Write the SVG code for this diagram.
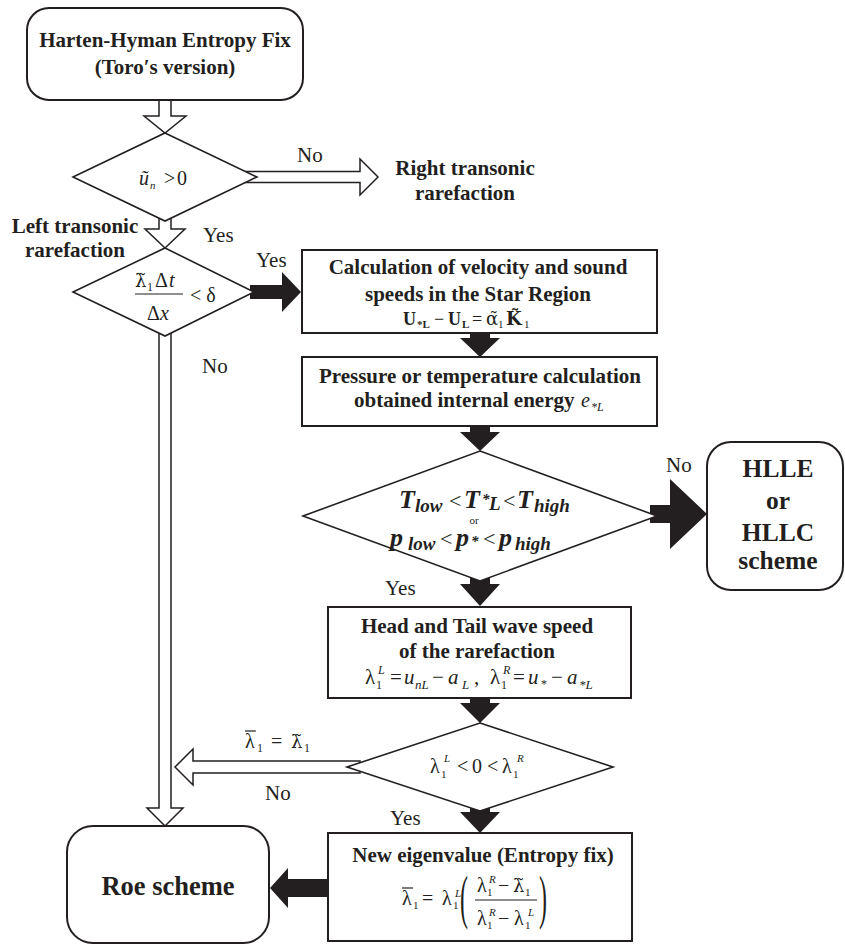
<svg xmlns="http://www.w3.org/2000/svg" width="845" height="946" viewBox="0 0 845 946">
<style>
.box{fill:#fff;stroke:#231f20;stroke-width:2}
.dia{fill:#fff;stroke:#231f20;stroke-width:1.6;stroke-linejoin:miter}
.ha{fill:#fff;stroke:#231f20;stroke-width:1.5;stroke-linejoin:miter}
.ba{fill:#231f20;stroke:none}
.bar{stroke:#231f20;stroke-width:1.2}
text{font-family:"Liberation Serif","Times New Roman",serif;fill:#231f20}
.b{font-weight:bold;font-size:21px;text-anchor:middle}
.lbl{font-size:21px}
.m{font-size:20px}
.i{font-style:italic}
.s{font-size:12px}
.dj{font-family:"DejaVu Serif",serif;font-size:18px}
.big{font-weight:bold;font-size:25.5px;text-anchor:middle}
.bi{font-weight:bold;font-style:italic;font-size:26px}
.op{font-weight:normal;font-style:normal;font-size:22px}
.sub{font-size:19px}
</style>
<rect width="845" height="946" fill="#fff"/>
<g id="connectors">
  <polygon class="ha" points="159,95 171,95 171,116 186,116 165,133 144,116 159,116"/>
  <polygon class="ha" points="159,210 171,210 171,229 185,229 165,248 145,229 159,229"/>
  <polygon class="ha" points="245,171.5 360,171.5 360,159 378,177 360,195 360,182.5 245,182.5"/>
  <polygon class="ha" points="159,325 171,325 171,808 183,808 165,826 147,808 159,808"/>
  <polygon class="ha" points="360,761 193,761 193,749 175,767 193,785 193,773 360,773"/>
  <polygon class="ba" points="250,285 282,285 282,272 301,292 282,312 282,299 250,299"/>
  <polygon class="ba" points="470,333 490,333 490,338 500,338 480,357 460,338 470,338"/>
  <polygon class="ba" points="470,426 490,426 490,432 500,432 480,451 460,432 470,432"/>
  <polygon class="ba" points="470,575 490,575 490,584 500,584 480,606 460,584 470,584"/>
  <polygon class="ba" points="650,505 670,505 670,479 707,514 670,549 670,523 650,523"/>
  <polygon class="ba" points="470,698 490,698 490,703 500,703 480,723 460,703 470,703"/>
  <polygon class="ba" points="470,806 490,806 490,812 500,812 480,833 460,812 470,812"/>
  <polygon class="ba" points="328,879 288,879 288,868 270,888 288,908 288,897 328,897"/>
</g>
<g id="labels">
  <text class="lbl" x="297" y="162">No</text>
  <text class="b" x="465" y="175">Right transonic</text>
  <text class="b" x="465" y="200">rarefaction</text>
  <text class="b" x="75" y="233">Left transonic</text>
  <text class="b" x="75" y="257">rarefaction</text>
  <text class="lbl" x="203" y="242">Yes</text>
  <text class="lbl" x="256" y="267">Yes</text>
  <text class="lbl" x="202" y="373">No</text>
  <text class="lbl" x="666" y="472">No</text>
  <text class="lbl" x="385" y="595">Yes</text>
  <text class="lbl" x="265" y="800">No</text>
  <text class="lbl" x="390" y="825">Yes</text>
  <text class="m"><tspan x="245" y="748">λ</tspan><tspan class="s" x="257" y="752">1</tspan><tspan x="271" y="748">=</tspan><tspan class="dj" x="291" y="748">λ̃</tspan><tspan class="s" x="304" y="752">1</tspan></text>
  <line class="bar" x1="245" y1="731" x2="256" y2="731"/>
</g>
<g id="start">
  <rect class="box" x="27" y="8" width="276" height="92" rx="22"/>
  <text class="b" x="165" y="47">Harten-Hyman Entropy Fix</text>
  <text class="b" x="165" y="74">(Toro′s version)</text>
</g>
<g id="dec1">
  <polygon class="dia" points="165,133 257,177 165,221 73,177"/>
  <text class="m"><tspan class="i" x="139" y="185">ũ</tspan><tspan class="i" font-size="11" x="150" y="189">n</tspan><tspan x="164" y="185">&gt;</tspan><tspan x="177" y="185">0</tspan></text>
</g>
<g id="dec2">
  <polygon class="dia" points="165,248 254,292 165,336 73,292"/>
  <text class="m"><tspan class="dj" x="135" y="287">λ̃</tspan><tspan class="s" x="147" y="291">1</tspan><tspan x="155" y="287">Δ</tspan><tspan class="i" x="169" y="287">t</tspan></text>
  <line class="bar" x1="135" y1="294" x2="183" y2="294"/>
  <text class="m"><tspan x="147" y="320">Δ</tspan><tspan class="i" x="160" y="320">x</tspan></text>
  <text class="m" x="190" y="302">&lt; δ</text>
</g>
<g id="box1">
  <rect class="box" x="302" y="250" width="355" height="83"/>
  <text class="b" x="478" y="274">Calculation of velocity and sound</text>
  <text class="b" x="478" y="301">speeds in the Star Region</text>
  <text font-size="18"><tspan font-weight="bold" x="403" y="325">U</tspan><tspan font-weight="bold" font-size="11" x="417" y="328">*L</tspan><tspan x="434" y="325">−</tspan><tspan font-weight="bold" x="448" y="325">U</tspan><tspan font-weight="bold" font-size="11" x="462" y="328">L</tspan><tspan x="472" y="325">=</tspan><tspan class="dj" font-size="16" x="486" y="325">α̃</tspan><tspan font-size="11" x="498" y="328">1</tspan><tspan class="dj" font-size="17" font-weight="bold" x="506" y="325">K̃</tspan><tspan font-size="11" x="524" y="328">1</tspan></text>
</g>
<g id="box2">
  <rect class="box" x="302" y="357" width="355" height="69"/>
  <text class="b" x="480" y="383">Pressure or temperature calculation</text>
  <text font-weight="bold" font-size="21" x="354" y="407">obtained internal energy</text>
  <text class="m i"><tspan x="581" y="407">e</tspan><tspan font-size="12" x="591" y="411">*L</tspan></text>
</g>
<g id="dec3">
  <polygon class="dia" points="480,451 657,516 480,581 303,516"/>
  <text class="bi"><tspan x="399" y="508">T</tspan><tspan class="sub" x="415" y="512">low</tspan><tspan class="op" x="449" y="508">&lt;</tspan><tspan x="464" y="508">T</tspan><tspan font-size="15" x="482" y="504">*</tspan><tspan class="sub" x="489" y="510">L</tspan><tspan class="op" x="503" y="508">&lt;</tspan><tspan x="517" y="508">T</tspan><tspan class="sub" x="534" y="512">high</tspan></text>
  <text font-size="11" x="474" y="524" text-anchor="middle">or</text>
  <text class="bi"><tspan x="390" y="546">p</tspan><tspan class="sub" x="408" y="550">low</tspan><tspan class="op" x="440" y="546">&lt;</tspan><tspan x="456" y="546">p</tspan><tspan font-size="15" x="471" y="546">*</tspan><tspan class="op" x="483" y="546">&lt;</tspan><tspan x="499" y="546">p</tspan><tspan class="sub" x="515" y="550">high</tspan></text>
</g>
<g id="hll">
  <rect class="box" x="707" y="442" width="136" height="148" rx="24"/>
  <text class="big" x="778" y="477">HLLE</text>
  <text class="big" x="778" y="509">or</text>
  <text class="big" x="778" y="541">HLLC</text>
  <text class="big" x="778" y="569">scheme</text>
</g>
<g id="box3">
  <rect class="box" x="328" y="607" width="303" height="91"/>
  <text class="b" x="477" y="633">Head and Tail wave speed</text>
  <text class="b" x="477" y="658">of the rarefaction</text>
  <text font-size="21"><tspan x="365" y="684">λ</tspan><tspan font-size="12" x="376" y="689">1</tspan><tspan class="i" font-size="12" x="378" y="674">L</tspan><tspan x="390" y="684">=</tspan><tspan class="i" x="404" y="684">u</tspan><tspan class="i" font-size="13" x="415" y="689">nL</tspan><tspan x="432" y="684">−</tspan><tspan class="i" x="448" y="684">a</tspan><tspan class="i" font-size="13" x="462" y="689">L</tspan><tspan x="474" y="684">,</tspan><tspan x="490" y="684">λ</tspan><tspan font-size="12" x="501" y="689">1</tspan><tspan class="i" font-size="12" x="503" y="674">R</tspan><tspan x="513" y="684">=</tspan><tspan class="i" x="528" y="684">u</tspan><tspan font-size="12" x="541" y="688">*</tspan><tspan x="551" y="684">−</tspan><tspan class="i" x="567" y="684">a</tspan><tspan class="i" font-size="13" x="579" y="689">*L</tspan></text>
</g>
<g id="dec4">
  <polygon class="dia" points="480,723 613,767 480,811 347,767"/>
  <text class="m"><tspan x="430" y="773">λ</tspan><tspan font-size="11" x="441" y="778">1</tspan><tspan class="i" font-size="11" x="444" y="762">L</tspan><tspan x="457" y="773">&lt;</tspan><tspan x="472" y="773">0</tspan><tspan x="487" y="773">&lt;</tspan><tspan x="502" y="773">λ</tspan><tspan font-size="11" x="513" y="778">1</tspan><tspan class="i" font-size="11" x="517" y="762">R</tspan></text>
</g>
<g id="box4">
  <rect class="box" x="328" y="833" width="304" height="108"/>
  <text class="b" x="483" y="862">New eigenvalue (Entropy fix)</text>
  <text class="m"><tspan x="402" y="905">λ</tspan><tspan font-size="11" x="413" y="909">1</tspan><tspan x="422" y="905">=</tspan><tspan x="442" y="905">λ</tspan><tspan font-size="11" x="453" y="909">1</tspan><tspan class="i" font-size="11" x="455" y="897">L</tspan></text>
  <line class="bar" x1="402" y1="888" x2="413" y2="888"/>
  <text font-size="40" transform="translate(460,917) scale(0.6,1.5)">(</text>
  <text class="m"><tspan x="477" y="892">λ</tspan><tspan font-size="11" x="487" y="896">1</tspan><tspan class="i" font-size="11" x="489" y="883">R</tspan><tspan x="498" y="892">−</tspan><tspan class="dj" x="513" y="892">λ̃</tspan><tspan font-size="11" x="525" y="896">1</tspan></text>
  <line class="bar" x1="475" y1="900" x2="537" y2="900"/>
  <text class="m"><tspan x="477" y="925">λ</tspan><tspan font-size="11" x="487" y="929">1</tspan><tspan class="i" font-size="11" x="489" y="916">R</tspan><tspan x="498" y="925">−</tspan><tspan x="514" y="925">λ</tspan><tspan font-size="11" x="525" y="929">1</tspan><tspan class="i" font-size="11" x="528" y="916">L</tspan></text>
  <text font-size="40" transform="translate(539,917) scale(0.6,1.5)">)</text>
</g>
<g id="roe">
  <rect class="box" x="67" y="826" width="202" height="117" rx="26"/>
  <text font-weight="bold" font-size="26.5" x="168" y="895" text-anchor="middle">Roe scheme</text>
</g>
</svg>
